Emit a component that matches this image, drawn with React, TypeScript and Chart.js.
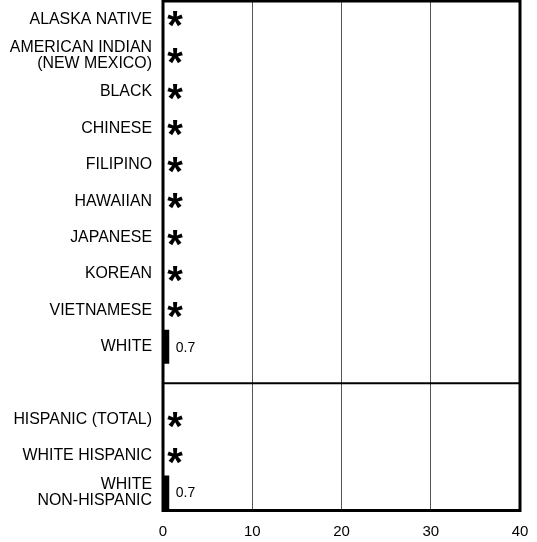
import React, { useEffect, useRef } from "react";
import { Chart, registerables } from "chart.js";

Chart.register(...registerables);

const categories: string[][] = [
  ["ALASKA NATIVE"],
  ["AMERICAN INDIAN", "(NEW MEXICO)"],
  ["BLACK"],
  ["CHINESE"],
  ["FILIPINO"],
  ["HAWAIIAN"],
  ["JAPANESE"],
  ["KOREAN"],
  ["VIETNAMESE"],
  ["WHITE"],
  [""],
  ["HISPANIC (TOTAL)"],
  ["WHITE HISPANIC"],
  ["WHITE", "NON-HISPANIC"],
];

// null = suppressed value (shown as *)
const values: (number | null)[] = [
  null, null, null, null, null, null, null, null, null, 0.7,
  null,
  null, null, 0.7,
];

const separatorIndex = 10;
const xTicks = [0, 10, 20, 30, 40];
const FONT = "'Liberation Sans', Arial, Helvetica, sans-serif";

const overlayPlugin = {
  id: "overlay",
  afterDatasetsDraw(chart: any) {
    const { ctx, chartArea, scales } = chart;
    const xs = scales.x;
    const ys = scales.y;
    ctx.save();
    const sy = ys.getPixelForValue(separatorIndex);
    ctx.strokeStyle = "#000";
    ctx.lineWidth = 2;
    ctx.beginPath();
    ctx.moveTo(chartArea.left, sy);
    ctx.lineTo(chartArea.right, sy);
    ctx.stroke();

    values.forEach((v, i) => {
      if (i === separatorIndex) return;
      const y = ys.getPixelForValue(i);
      if (v === null) {
        ctx.font = `bold 40px ${FONT}`;
        ctx.fillStyle = "#000";
        ctx.textAlign = "center";
        ctx.textBaseline = "alphabetic";
        const m = ctx.measureText("*");
        const asc = m.actualBoundingBoxAscent;
        const desc = m.actualBoundingBoxDescent;
        const baseline = y + (asc - desc) / 2;
        ctx.fillText("*", xs.getPixelForValue(0) + 12, baseline);
      } else {
        ctx.font = `14px ${FONT}`;
        ctx.fillStyle = "#000";
        ctx.textAlign = "left";
        ctx.textBaseline = "middle";
        ctx.fillText(String(v), xs.getPixelForValue(v) + 6.5, y + 1);
      }
    });

    ctx.lineWidth = 3;
    ctx.strokeStyle = "#000";
    ctx.strokeRect(
      chartArea.left,
      chartArea.top,
      chartArea.right - chartArea.left,
      chartArea.bottom - chartArea.top
    );
    ctx.restore();
  },
};

export default function App() {
  const ref = useRef<HTMLCanvasElement | null>(null);
  useEffect(() => {
    if (!ref.current) return;
    const chart = new Chart(ref.current, {
      type: "bar",
      data: {
        labels: categories,
        datasets: [
          {
            data: values as any,
            backgroundColor: "#000",
            borderWidth: 0,
            barPercentage: 0.93,
            categoryPercentage: 1,
          },
        ],
      },
      options: {
        indexAxis: "y",
        responsive: false,
        animation: false,
        maintainAspectRatio: false,
        layout: { padding: { top: 1, right: 17, left: 0, bottom: 0 } },
        plugins: {
          legend: { display: false },
          tooltip: { enabled: false },
        },
        scales: {
          x: {
            min: 0,
            max: 40,
            afterFit: (s: any) => {
              s.height = 31.5;
              s.paddingLeft = 0;
              s.paddingRight = 0;
            },
            afterBuildTicks: (s: any) => {
              s.ticks = xTicks.map((v) => ({ value: v }));
            },
            grid: {
              drawTicks: false,
              color: (c: any) =>
                c.tick && (c.tick.value === 0 || c.tick.value === 40)
                  ? "rgba(0,0,0,0)"
                  : "#555",
              lineWidth: 1,
            },
            border: { display: false },
            ticks: {
              color: "#000",
              padding: 12,
              font: { family: FONT, size: 15 },
              maxRotation: 0,
            },
          },
          y: {
            afterFit: (s: any) => {
              s.width = 163;
              s.paddingTop = 0;
              s.paddingBottom = 0;
            },
            grid: { display: false, drawTicks: false },
            border: { display: false },
            ticks: {
              color: "#000",
              padding: 11,
              autoSkip: false,
              font: { family: FONT, size: 15.9, lineHeight: 1.0 },
            },
          },
        },
      },
      plugins: [overlayPlugin],
    });
    return () => chart.destroy();
  }, []);
  return (
    <div style={{ position: "absolute", left: 0, top: 0, width: 537, height: 542, background: "#fff" }}>
      <canvas ref={ref} width={537} height={542} />
    </div>
  );
}
